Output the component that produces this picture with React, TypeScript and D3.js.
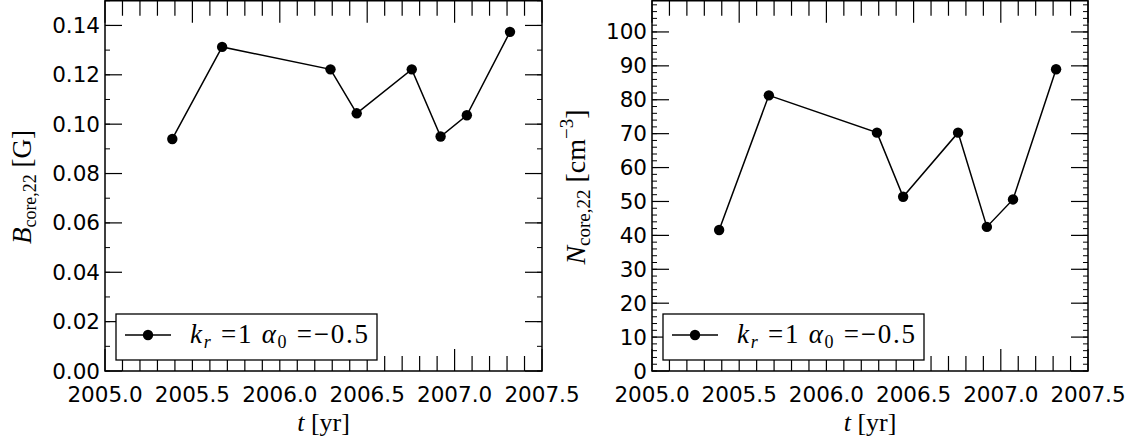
import React from "react";
import * as d3 from "d3";

// observation epochs (yr)
const years = [2005.385, 2005.67, 2006.29, 2006.44, 2006.755, 2006.92, 2007.07, 2007.317];
// core magnetic field, G
const bCore = [0.094, 0.1313, 0.1222, 0.1044, 0.1222, 0.095, 0.1036, 0.1374];
// core density, cm^-3
const nCore = [41.6, 81.3, 70.3, 51.4, 70.3, 42.5, 50.6, 89.0];

const xTickLabels = ["2005.0", "2005.5", "2006.0", "2006.5", "2007.0", "2007.5"];
const bTickLabels = ["0.00", "0.02", "0.04", "0.06", "0.08", "0.10", "0.12", "0.14"];
const nTickLabels = ["0", "10", "20", "30", "40", "50", "60", "70", "80", "90", "100"];

const TICK_FONT = "'DejaVu Sans', sans-serif";
const MATH_FONT = "'Liberation Serif', 'DejaVu Serif', serif";

const top = 0.75;
const bottom = 371;

type PanelProps = {
  left: number;
  right: number;
  values: number[];
  yMax: number;
  yTicks: string[];
  yMinorStep: number;
  yLabel: React.ReactNode;
};

const Panel = ({ left, right, values, yMax, yTicks, yMinorStep, yLabel }: PanelProps) => {
  const x = d3.scaleLinear().domain([2005, 2007.5]).range([left, right]);
  const y = d3.scaleLinear().domain([0, yMax]).range([bottom, top]);

  const pts = years.map((t, i) => [x(t), y(values[i])] as [number, number]);
  const line = d3.line()(pts);

  // minor x ticks every 0.1 yr, major every 0.5 yr
  const xMinor = d3.range(0, 26).map((i) => 2005 + i * 0.1);
  const yMinor = d3.range(0, Math.floor(yMax / yMinorStep + 1e-6) + 1).map((i) => i * yMinorStep);

  const legX = left + 11;
  const legY = 314;

  return (
    <g>
      {/* x ticks, top & bottom, inward */}
      {xMinor.map((t, i) => {
        const len = i % 5 === 0 ? 22 : 15;
        const xx = x(t);
        return (
          <g key={"xt" + i} stroke="#000" strokeWidth={1.2}>
            <line x1={xx} x2={xx} y1={bottom} y2={bottom - len} />
            <line x1={xx} x2={xx} y1={top} y2={top + len} />
          </g>
        );
      })}
      {/* y ticks, left & right */}
      {yMinor.map((v, i) => {
        const yy = y(v);
        return (
          <g key={"ym" + i} stroke="#000" strokeWidth={1}>
            <line x1={left} x2={left + 5} y1={yy} y2={yy} />
            <line x1={right} x2={right - 5} y1={yy} y2={yy} />
          </g>
        );
      })}
      {yTicks.map((lab, i) => {
        const yy = y(+lab);
        return (
          <g key={"yt" + i}>
            <line x1={left} x2={left + 17} y1={yy} y2={yy} stroke="#000" strokeWidth={1.2} />
            <line x1={right} x2={right - 17} y1={yy} y2={yy} stroke="#000" strokeWidth={1.2} />
            <text
              x={left - 5}
              y={yy}
              textAnchor="end"
              dominantBaseline="central"
              fontFamily={TICK_FONT}
              fontSize={21.5}
            >
              {lab}
            </text>
          </g>
        );
      })}
      {xTickLabels.map((lab, i) => (
        <text
          key={"xl" + i}
          x={x(+lab)}
          y={402}
          textAnchor="middle"
          fontFamily={TICK_FONT}
          fontSize={21.5}
        >
          {lab}
        </text>
      ))}

      {/* data */}
      <path d={line || ""} fill="none" stroke="#000" strokeWidth={1.5} />
      {pts.map((p, i) => (
        <circle key={"p" + i} cx={p[0]} cy={p[1]} r={5.2} fill="#000" />
      ))}

      {/* legend */}
      <rect x={legX} y={legY} width={261} height={46} fill="#fff" stroke="#000" strokeWidth={1.3} />
      <line x1={legX + 9} x2={legX + 55} y1={legY + 21} y2={legY + 21} stroke="#000" strokeWidth={1.5} />
      <circle cx={legX + 32} cy={legY + 21} r={5.2} fill="#000" />
      <text
        x={legX + 74}
        y={legY + 29}
        fontFamily={MATH_FONT}
        fontSize={27}
        textLength={178}
        lengthAdjust="spacing"
      >
        <tspan fontStyle="italic">k</tspan>
        <tspan fontStyle="italic" fontSize={18} dy={5}>r</tspan>
        <tspan dy={-5}> =1 </tspan>
        <tspan fontStyle="italic">α</tspan>
        <tspan fontSize={18} dy={5}>0</tspan>
        <tspan dy={-5}> =−0.5</tspan>
      </text>

      {/* frame */}
      <rect x={left} y={top} width={right - left} height={bottom - top} fill="none" stroke="#000" strokeWidth={1.5} />

      {/* axis labels */}
      <text x={(left + right) / 2} y={431} textAnchor="middle" fontFamily={MATH_FONT} fontSize={26}>
        <tspan fontStyle="italic">t</tspan>
        <tspan> [yr]</tspan>
      </text>
      {yLabel}
    </g>
  );
};

const App = () => {
  return (
    <svg
      width={1135}
      height={447}
      style={{ position: "absolute", left: 0, top: 0, background: "#fff" }}
    >
      <rect width={1135} height={447} fill="#fff" />
      <Panel
        left={105}
        right={542}
        values={bCore}
        yMax={0.15}
        yTicks={bTickLabels}
        yMinorStep={0.01}
        yLabel={
          <text
            transform="translate(31,187) rotate(-90)"
            textAnchor="middle"
            fontFamily={MATH_FONT}
            fontSize={27}
          >
            <tspan fontStyle="italic">B</tspan>
            <tspan fontSize={18} dy={5}>core,22</tspan>
            <tspan dy={-5}> [G]</tspan>
          </text>
        }
      />
      <Panel
        left={652}
        right={1088}
        values={nCore}
        yMax={109.2}
        yTicks={nTickLabels}
        yMinorStep={2}
        yLabel={
          <text
            transform="translate(585,187) rotate(-90)"
            textAnchor="middle"
            fontFamily={MATH_FONT}
            fontSize={28}
          >
            <tspan fontStyle="italic">N</tspan>
            <tspan fontSize={19} dy={5}>core,22</tspan>
            <tspan dy={-5}> [cm</tspan>
            <tspan fontSize={19} dy={-12}>−3</tspan>
            <tspan dy={12}>]</tspan>
          </text>
        }
      />
    </svg>
  );
};

export default App;
